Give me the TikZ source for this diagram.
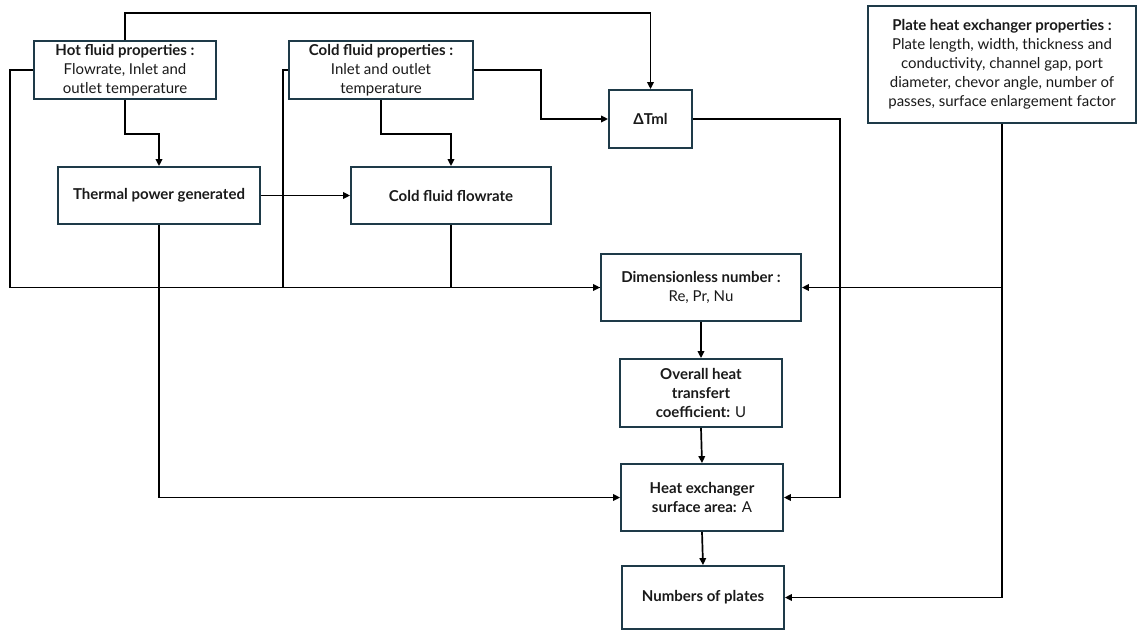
\documentclass[tikz,border=0pt]{standalone}
\usepackage{fontspec}
\setmainfont{Lato}
\usetikzlibrary{arrows.meta}
\definecolor{boxcol}{HTML}{1E3A48}
\definecolor{txtcol}{HTML}{1A1A1A}
\begin{document}
\begin{tikzpicture}[x=1pt,y=-1pt,
  box/.style={draw=boxcol,line width=1.8pt,fill=white,align=center,inner sep=0pt,
    text=txtcol,font=\fontsize{15}{19}\selectfont},
  link/.style={draw=black,line width=1.7pt},
  arr/.style={link,-{Triangle[length=7pt,width=6.5pt]}}]
\useasboundingbox (0,0) rectangle (1138,630);
% nodes
\node[box,minimum width=182pt,minimum height=58pt] (hot) at (125,70)
  {\textbf{Hot fluid properties :}\\Flowrate, Inlet and\\outlet temperature};
\node[box,minimum width=184pt,minimum height=58pt] (cold) at (381,70)
  {\textbf{Cold fluid properties :}\\Inlet and outlet\\temperature};
\node[box,minimum width=83pt,minimum height=58pt] (dtml) at (650.5,119)
  {\textbf{ΔTml}};
\node[box,minimum width=268pt,minimum height=117pt] (plate) at (1002,64.5)
  {\textbf{Plate heat exchanger properties :}\\Plate length, width, thickness and\\conductivity, channel gap, port\\diameter, chevor angle, number of\\passes, surface enlargement factor};
\node[box,minimum width=202pt,minimum height=57pt] (thermal) at (159,195.5)
  {\textbf{Thermal power generated}};
\node[box,minimum width=200pt,minimum height=57pt] (cflow) at (451,195.5)
  {\textbf{Cold fluid flowrate}};
\node[box,minimum width=200pt,minimum height=67pt] (dimless) at (701,287.5)
  {\textbf{Dimensionless number :}\\Re, Pr, Nu};
\node[box,minimum width=162pt,minimum height=68pt] (overall) at (701,393)
  {\textbf{Overall heat}\\\textbf{transfert}\\\textbf{coefficient:} U};
\node[box,minimum width=162pt,minimum height=67pt] (heatex) at (702,497.5)
  {\textbf{Heat exchanger}\\\textbf{surface area:} A};
\node[box,minimum width=162pt,minimum height=63pt] (plates) at (703,597.5)
  {\textbf{Numbers of plates}};
% connectors
\draw[arr] (hot.north) -- ++(0,-27) -| (dtml.north);
\draw[arr] (hot.west) -- (10,70) |- (dimless.west);
\draw[arr] (hot.south) -- ++(0,34) -| (thermal.north);
\draw[link] (cold.west) -- (283,70) -- (283,287.5);
\draw[arr] (cold.east) -- (541,70) |- (dtml.west);
\draw[arr] (cold.south) -- ++(0,34) -| (cflow.north);
\draw[arr] (thermal.east) -- (cflow.west);
\draw[arr] (thermal.south) |- (heatex.west);
\draw[link] (cflow.south) |- (dimless.west);
\draw[arr] (dtml.east) -- (840,119) |- (heatex.east);
\draw[arr] (plate.south) |- (plates.east);
\draw[arr] (plate.south |- dimless.east) -- (dimless.east);
\draw[arr] (dimless.south) -- (overall.north);
\draw[arr] (overall.south) -- (heatex.north);
\draw[arr] (heatex.south) -- (plates.north);
\end{tikzpicture}
\end{document}
